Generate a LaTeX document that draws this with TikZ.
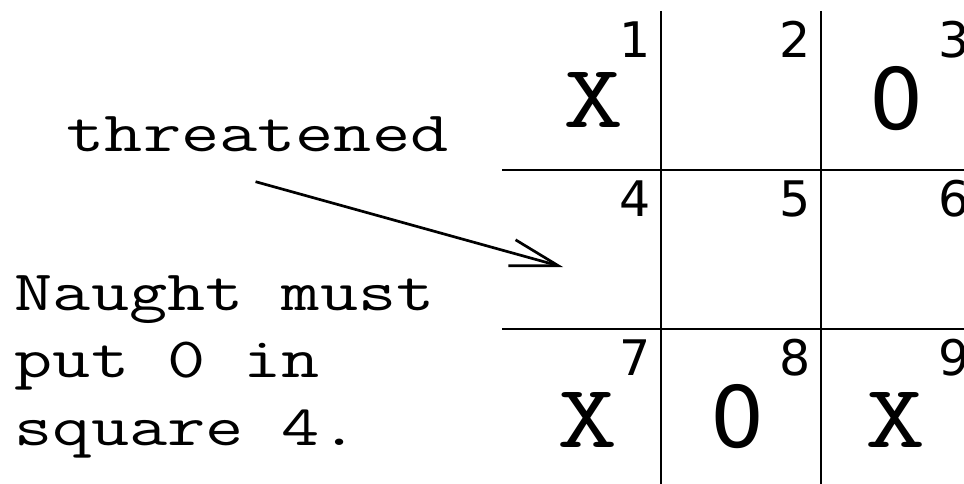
\documentclass[tikz,border=0pt]{standalone}
\usepackage{fontspec}
\newfontfamily\numfont{DejaVu Sans}
\usetikzlibrary{arrows.meta}

\begin{document}
\begin{tikzpicture}[x=1pt, y=-1pt, line width=2.7pt,
    note/.style={font=\ttfamily\fontsize{57}{67.5}\selectfont, xscale=1.3, inner sep=0pt, anchor=base west},
    cellnum/.style={font=\numfont\fontsize{49}{49}\selectfont, inner sep=0pt, anchor=north east},
    cross/.style={font=\ttfamily\fontsize{90}{90}\selectfont, xscale=1.3, inner sep=0pt, anchor=base},
    nought/.style={font=\numfont\fontsize{85}{85}\selectfont, inner sep=0pt, anchor=base}]
  \useasboundingbox (0,0) rectangle (964,484);
  % the board
  \draw (661,11) -- (661,484);
  \draw (821,11) -- (821,484);
  \draw (502,170) -- (964,170);
  \draw (502,329) -- (964,329);
  % square numbers
  \foreach \n/\x/\y in {1/652/20, 2/812/20, 3/971/20,
                        4/652/179, 5/812/179, 6/971/179,
                        7/652/338, 8/812/338, 9/971/338}
    \node[cellnum] (sq\n) at (\x,\y) {\n};
  % pieces
  \node[cross] (p1) at (594,128) {X};
  \node[nought] (p3) at (897,130) {0};
  \node[cross] (p7) at (588,447) {X};
  \node[nought] (p8) at (738,447) {0};
  \node[cross] (p9) at (896,447) {X};
  % comments
  \node[note] (threat) at (65,152) {threatened};
  \node[note] (line1) at (13,310) {Naught must};
  \node[note] (line2) at (13,377) {put 0 in};
  \node[note] (line3) at (13,445) {square 4.};
  \coordinate (tip) at (563,267);
  \draw[-{Straight Barb[length=48pt, width=27pt]}] ([xshift=-2pt, yshift=-28pt]threat.south) -- (tip);
\end{tikzpicture}
\end{document}
